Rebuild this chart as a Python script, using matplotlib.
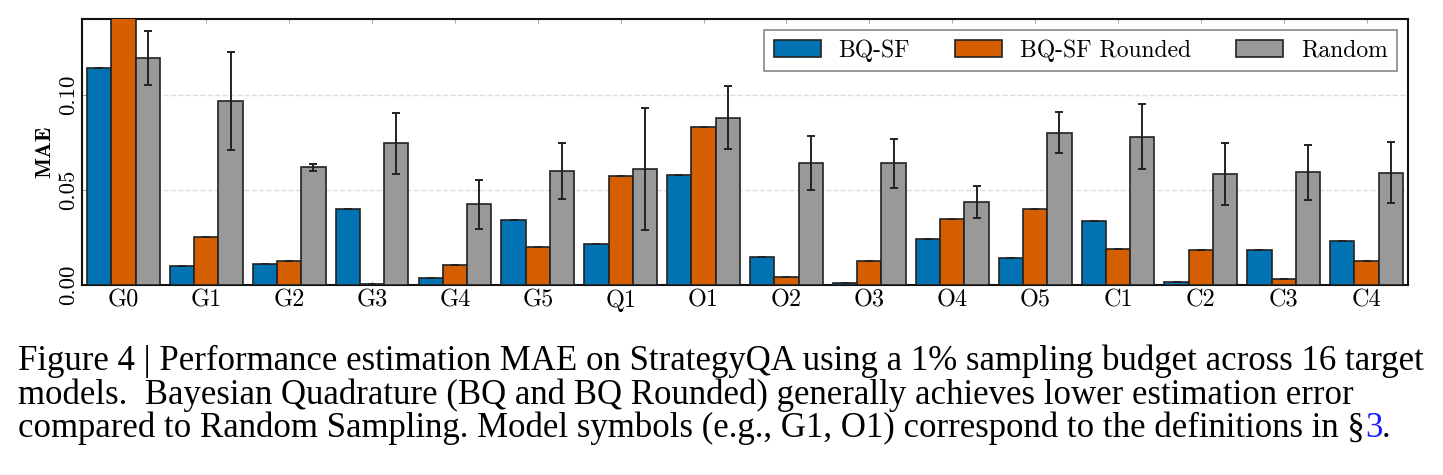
import numpy as np
import matplotlib
matplotlib.use("Agg")
import matplotlib.pyplot as plt

models = ["G0", "G1", "G2", "G3", "G4", "G5", "Q1", "O1",
          "O2", "O3", "O4", "O5", "C1", "C2", "C3", "C4"]
bq_sf = [0.114, 0.0101, 0.0112, 0.0400, 0.0037, 0.0344, 0.0217, 0.0577,
         0.0150, 0.0012, 0.0241, 0.0143, 0.0337, 0.0017, 0.0182, 0.0231]
bq_sf_rounded = [0.150, 0.0255, 0.0124, 0.0007, 0.0107, 0.0199, 0.0573, 0.0830,
                 0.0044, 0.0124, 0.0348, 0.0400, 0.0189, 0.0182, 0.0033, 0.0126]
random_mae = [0.1194, 0.0969, 0.0619, 0.0745, 0.0425, 0.0601, 0.0612, 0.0881,
              0.0643, 0.0642, 0.0437, 0.0802, 0.0780, 0.0584, 0.0594, 0.0591]
random_err = [0.0142, 0.0258, 0.0018, 0.0161, 0.0128, 0.0148, 0.0320, 0.0166,
              0.0142, 0.0129, 0.0085, 0.0107, 0.0171, 0.0163, 0.0144, 0.0161]

series = [("BQ-SF", bq_sf, None, "#0173b2"),
          ("BQ-SF Rounded", bq_sf_rounded, None, "#d55e00"),
          ("Random", random_mae, random_err, "#999999")]

caption_lines = [
    "Figure 4 | Performance estimation MAE on StrategyQA using a 1% sampling budget across 16 target",
    "models.  Bayesian Quadrature (BQ and BQ Rounded) generally achieves lower estimation error",
    "compared to Random Sampling. Model symbols (e.g., G1, O1) correspond to the definitions in §",
]

fig = plt.figure(figsize=(14.43, 4.75), dpi=100)
ax = fig.add_axes([0.0568, 0.4, 0.919, 0.56])

x = np.arange(len(models))
w = 0.293
for i, (name, vals, err, col) in enumerate(series):
    e = err if err is not None else np.zeros(len(vals))
    ax.bar(x + (i - 1) * w, vals, w, color=col, edgecolor="#222222",
           linewidth=1.2, label=name, yerr=e,
           error_kw=dict(ecolor="#222222", elinewidth=1.4, capsize=3, capthick=1.4),
           zorder=3)

ax.set_xlim(-0.5, len(models) - 0.5)
ax.set_ylim(0, 0.14)
ax.set_yticks([0.0, 0.05, 0.10])
ax.set_yticklabels(["0.00", "0.05", "0.10"], rotation=90, va="center",
                   family="cmr10", fontsize=16.5)
ax.set_xticks(x)
ax.set_xticklabels(models, family="cmr10", fontsize=17.5)
ax.tick_params(axis="both", direction="in", length=3, width=0.6, color="#999999",
               labelcolor="black", top=True, pad=3)
ax.grid(axis="y", linestyle="--", color="#dddddd", linewidth=1, zorder=0)
for s in ax.spines.values():
    s.set_linewidth(1.5)
    s.set_color("#111111")
ax.set_ylabel("MAE", family="cmb10", fontsize=16, labelpad=3)

leg = ax.legend(loc="upper right", ncol=3, prop=dict(family="cmr10", size=17),
                fancybox=False, framealpha=1, edgecolor="#888888",
                handlelength=2.0, handleheight=0.7, handletextpad=0.75,
                columnspacing=1.9, borderpad=0.4, borderaxespad=0,
                bbox_to_anchor=(0.9917, 0.959))
leg.get_frame().set_linewidth(1.2)

# caption below the chart, one text per line
cap_kw = dict(family="Liberation Serif", fontsize=25, va="baseline", ha="left")
ys = [1 - 370 / 475, 1 - 404 / 475, 1 - 437 / 475]
texts = [fig.text(0.0125, y, line, **cap_kw) for line, y in zip(caption_lines, ys)]
fig.canvas.draw()
r = fig.canvas.get_renderer()
bb = texts[2].get_window_extent(r)
t3 = fig.text(bb.x1 / fig.bbox.width, ys[2], "3", color="#1a1aff", **cap_kw)
bb3 = t3.get_window_extent(r)
fig.text(bb3.x1 / fig.bbox.width, ys[2], ".", **cap_kw)

fig.savefig("out.png", dpi=100)
